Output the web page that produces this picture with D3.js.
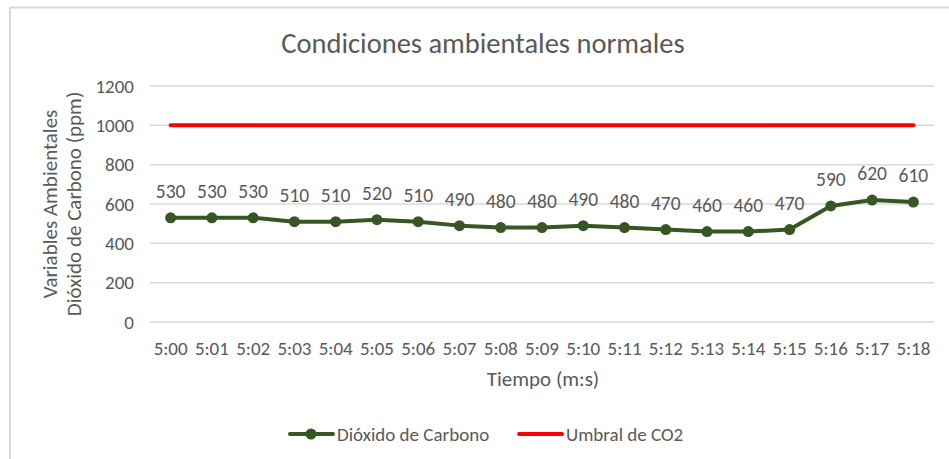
<!DOCTYPE html>
<html>
<head>
<meta charset="utf-8">
<script src="https://cdn.jsdelivr.net/npm/d3@7"></script>
<style>
  body { margin: 0; background: #fff; }
  text { font-family: Carlito, Calibri, Lato, sans-serif; fill: #595959; }
</style>
</head>
<body>
<script>
var times = ['5:00', '5:01', '5:02', '5:03', '5:04', '5:05', '5:06', '5:07', '5:08', '5:09',
             '5:10', '5:11', '5:12', '5:13', '5:14', '5:15', '5:16', '5:17', '5:18'];
var co2 = [530, 530, 530, 510, 510, 520, 510, 490, 480, 480, 490, 480, 470, 460, 460, 470, 590, 620, 610];
var umbral = times.map(function() { return 1000; });
var yTicks = [0, 200, 400, 600, 800, 1000, 1200];

var chart = {
  width: 949,
  height: 459,
  left: 150,
  right: 934,
  top: 86,
  bottom: 322,
  green: '#375623',
  red: '#ff0000'
};

var svg = d3.select('body').append('svg').attr('width', chart.width).attr('height', chart.height);

// chart frame (only top and left edge are visible in the crop)
svg.append('line').attr('x1', 10).attr('y1', 7.5).attr('x2', chart.width).attr('y2', 7.5)
  .attr('stroke', '#d9d9d9').attr('stroke-width', 2);
svg.append('line').attr('x1', 10).attr('y1', 7.5).attr('x2', 10).attr('y2', chart.height)
  .attr('stroke', '#d9d9d9').attr('stroke-width', 2);

var x = d3.scaleBand().domain(times).range([chart.left, chart.right]);
var y = d3.scaleLinear().domain([0, 1200]).range([chart.bottom, chart.top]);
var cx = function(d, i) { return x(times[i]) + x.bandwidth() / 2; };

// gridlines
svg.append('g').selectAll('line').data(yTicks).enter().append('line')
  .attr('x1', chart.left).attr('x2', chart.right)
  .attr('y1', function(d) { return y(d); }).attr('y2', function(d) { return y(d); })
  .attr('stroke', '#d9d9d9').attr('stroke-width', 1.5);

// y axis labels
var yAxis = svg.append('g').attr('transform', 'translate(' + chart.left + ',0)')
  .call(d3.axisLeft(y).tickValues(yTicks).tickFormat(d3.format('d')).tickSize(0).tickPadding(16));
yAxis.select('.domain').remove();
yAxis.attr('font-family', null).attr('font-size', null);
yAxis.selectAll('text').attr('font-size', 19).attr('fill', '#595959');

// x axis labels
var xAxis = svg.append('g').attr('transform', 'translate(0,' + chart.bottom + ')')
  .call(d3.axisBottom(x).tickSize(0).tickPadding(20));
xAxis.select('.domain').remove();
xAxis.attr('font-family', null).attr('font-size', null);
xAxis.selectAll('text').attr('font-size', 19).attr('fill', '#595959');

// threshold line
svg.append('path').datum(umbral)
  .attr('d', d3.line().x(cx).y(function(d) { return y(d); }))
  .attr('fill', 'none').attr('stroke', chart.red).attr('stroke-width', 4).attr('stroke-linecap', 'round');

// co2 line
svg.append('path').datum(co2)
  .attr('d', d3.line().x(cx).y(function(d) { return y(d); }))
  .attr('fill', 'none').attr('stroke', chart.green).attr('stroke-width', 4).attr('stroke-linejoin', 'round');

svg.append('g').selectAll('circle').data(co2).enter().append('circle')
  .attr('cx', cx).attr('cy', function(d) { return y(d); }).attr('r', 5.5)
  .attr('fill', chart.green);

// data labels
svg.append('g').selectAll('text').data(co2).enter().append('text')
  .attr('x', cx).attr('y', function(d) { return y(d) - 20; })
  .attr('text-anchor', 'middle').attr('font-size', 19.5)
  .text(function(d) { return d; });

// title
svg.append('text').attr('x', 483).attr('y', 53).attr('text-anchor', 'middle')
  .attr('font-size', 28.5).text('Condiciones ambientales normales');

// axis titles
svg.append('text').attr('x', 543).attr('y', 386)
  .attr('text-anchor', 'middle').attr('font-size', 21).text('Tiempo (m:s)');

var yt = svg.append('text').attr('transform', 'translate(57,' + ((chart.top + chart.bottom) / 2) + ') rotate(-90)')
  .attr('text-anchor', 'middle').attr('font-size', 21);
yt.append('tspan').attr('x', 0).attr('dy', 0).text('Variables Ambientales');
yt.append('tspan').attr('x', 0).attr('dy', 24).text('Dióxido de Carbono (ppm)');

// legend
var legend = svg.append('g').attr('transform', 'translate(0,434)');
legend.append('line').attr('x1', 290).attr('x2', 333).attr('y1', 0).attr('y2', 0)
  .attr('stroke', chart.green).attr('stroke-width', 4).attr('stroke-linecap', 'round');
legend.append('circle').attr('cx', 311).attr('cy', 0).attr('r', 5.5).attr('fill', chart.green);
legend.append('text').attr('x', 337).attr('y', 7).attr('font-size', 19).text('Dióxido de Carbono');
legend.append('line').attr('x1', 519).attr('x2', 562).attr('y1', 0).attr('y2', 0)
  .attr('stroke', chart.red).attr('stroke-width', 4).attr('stroke-linecap', 'round');
legend.append('text').attr('x', 566).attr('y', 7).attr('font-size', 19).text('Umbral de CO2');
</script>
</body>
</html>
